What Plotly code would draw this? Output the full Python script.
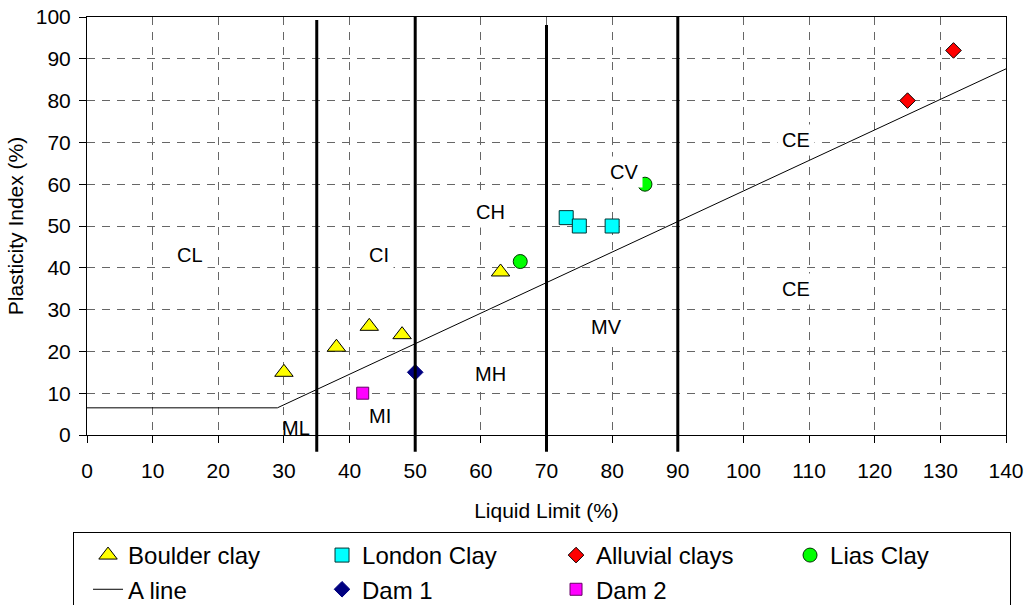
import plotly.graph_objects as go

# ---- data ----
boulder_ll = [30, 38, 43, 48, 63]
boulder_pi = [15, 21, 26, 24, 39]
london_ll = [73, 75, 80]
london_pi = [52, 50, 50]
alluvial_ll = [125, 132]
alluvial_pi = [80, 92]
lias_ll = [66, 85]
lias_pi = [41.5, 60]
dam1_ll = [50]
dam1_pi = [15]
dam2_ll = [42]
dam2_pi = [10]
aline_ll = [0, 29, 140]
aline_pi = [6.5, 6.5, 87.6]
ll_boundaries = [35, 50, 70, 90]
zone_labels = ["CL", "CI", "CH", "CV", "CE", "CE", "MV", "MH", "MI", "ML"]
zone_ll = [15.7, 44.5, 61.5, 81.8, 108, 108, 79.2, 61.5, 44.6, 31.8]
zone_pi = [43, 43, 53.3, 63, 70.6, 35, 25.8, 14.6, 4.5, 1.6]
x_ticks = list(range(0, 141, 10))
y_ticks = list(range(0, 101, 10))

FONT = "Liberation Sans, Arial, sans-serif"

fig = go.Figure()

fig.add_trace(go.Scatter(x=boulder_ll, y=boulder_pi, mode="markers", name="Boulder clay",
                         marker=dict(symbol="triangle-up", size=16, color="#FFFF00",
                                     line=dict(color="black", width=1))))
fig.add_trace(go.Scatter(x=london_ll, y=london_pi, mode="markers", name="London Clay",
                         marker=dict(symbol="square", size=14, color="#00FFFF",
                                     line=dict(color="#003333", width=1))))
fig.add_trace(go.Scatter(x=alluvial_ll, y=alluvial_pi, mode="markers", name="Alluvial clays",
                         marker=dict(symbol="diamond", size=12, color="#FF0000",
                                     line=dict(color="black", width=1))))
fig.add_trace(go.Scatter(x=lias_ll, y=lias_pi, mode="markers", name="Lias Clay",
                         marker=dict(symbol="circle", size=14, color="#00FF00",
                                     line=dict(color="#003300", width=1))))
fig.add_trace(go.Scatter(x=aline_ll, y=aline_pi, mode="lines", name="A line",
                         line=dict(color="black", width=1)))
fig.add_trace(go.Scatter(x=dam1_ll, y=dam1_pi, mode="markers", name="Dam 1",
                         marker=dict(symbol="diamond", size=12, color="#000080",
                                     line=dict(color="#000080", width=1))))
fig.add_trace(go.Scatter(x=dam2_ll, y=dam2_pi, mode="markers", name="Dam 2",
                         marker=dict(symbol="square", size=12, color="#FF00FF",
                                     line=dict(color="#660066", width=1))))

tops = {35: 0.993, 50: 1.0, 70: 0.981, 90: 1.0}
for b in ll_boundaries:
    fig.add_shape(type="line", xref="x", yref="paper", x0=b, x1=b, y0=-0.04, y1=tops.get(b, 1.0),
                  line=dict(color="black", width=3), layer="above")

for t, xx, yy in zip(zone_labels, zone_ll, zone_pi):
    fig.add_annotation(x=xx, y=yy, text=t, showarrow=False,
                       font=dict(family=FONT, size=20, color="black"),
                       bgcolor="rgba(0,0,0,0)" if t == "ML" else "white",
                       borderpad=4)

grid = dict(showgrid=True, gridcolor="#666666", gridwidth=1, griddash="8px,7px",
            showline=True, linecolor="black", linewidth=1, mirror=True,
            ticks="outside", ticklen=7, tickcolor="black", zeroline=False,
            automargin=False, ticklabeloverflow="allow",
            tickfont=dict(family=FONT, size=21, color="black"))

fig.update_xaxes(range=[0, 140], tickvals=x_ticks, ticklabelstandoff=10,
                 title=dict(text="Liquid Limit (%)", font=dict(family=FONT, size=21, color="black"),
                            standoff=22), **grid)
fig.update_yaxes(range=[0, 100], tickvals=y_ticks, ticklabelstandoff=4,
                 title=dict(text="Plasticity Index (%)", font=dict(family=FONT, size=21, color="black"),
                            standoff=6), **grid)

fig.update_layout(
    width=1028, height=605,
    margin=dict(l=87, r=22, t=17, b=170, autoexpand=False),
    paper_bgcolor="white", plot_bgcolor="white",
    font=dict(family=FONT, color="black"),
    showlegend=True,
    legend=dict(orientation="h", x=-0.0152, xanchor="left", y=-0.232, yanchor="top",
                entrywidth=175, entrywidthmode="pixels", itemsizing="trace",
                indentation=14,
                bordercolor="black", borderwidth=1, bgcolor="white",
                font=dict(family=FONT, size=24, color="black"),
                traceorder="normal"),
)

# remove the default 8px page margin so the figure fills the window exactly
fig.write_html("out.html", config={"displayModeBar": False},
               post_script="document.body.style.margin='0';document.body.style.overflow='hidden';")
